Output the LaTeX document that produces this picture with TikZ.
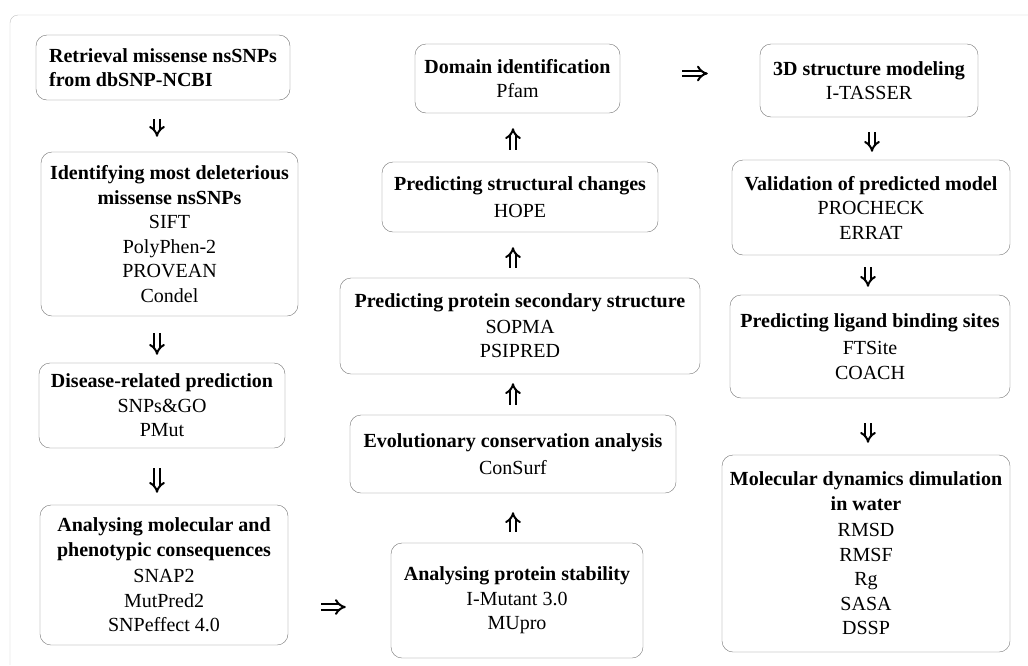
\documentclass[tikz,border=0pt]{standalone}
\usepackage{fontspec}
\setmainfont{Liberation Serif}
\usetikzlibrary{
	positioning,
	arrows.meta
}
\tikzset{
	stage/.style={
		draw=black!55,
		rounded corners=11pt,
		align=center,
		inner sep=2pt,
		font=\fontsize{20}{24.5}\selectfont
	},
	boxsize/.style 2 args={
		minimum width=#1pt,
		minimum height=#2pt
	},
	flow/.style={
		double,
		double distance=3.2pt,
		line width=2pt,
		-{Implies}
	}
}

\begin{document}
\begin{tikzpicture}[x=1pt,y=-1pt]
		\useasboundingbox (0,0) rectangle (1028,665);
		% outer frame, cut by the page edges
		\draw[black!25, rounded corners=8pt] (10,665) -- (10,15) -- (1028,15);

		\draw
			node [stage,boxsize={254}{65},align=left] (b1) at (163,67.5)
				{\textbf{Retrieval missense nsSNPs}\\\textbf{from dbSNP-NCBI}}
			node [stage,boxsize={257}{164}]  (b2) at (169.5,234)
				{\textbf{Identifying most deleterious}\\\textbf{missense nsSNPs}\\SIFT\\PolyPhen-2\\PROVEAN\\Condel}
			node [stage,boxsize={246}{85}]   (b3) at (162,405.5)
				{\textbf{Disease-related prediction}\\SNPs\&GO\\PMut}
			node [stage,boxsize={248}{140}]  (b4) at (164,575)
				{\textbf{Analysing molecular and}\\\textbf{phenotypic consequences}\\[2pt]SNAP2\\MutPred2\\SNPeffect 4.0}

			node [stage,boxsize={205}{69}]   (b5) at (517.5,78.5)
				{\textbf{Domain identification}\\Pfam}
			node [stage,boxsize={276}{70}]   (b6) at (520,197)
				{\textbf{Predicting structural changes}\\[2pt]HOPE}
			node [stage,boxsize={360}{96}]   (b7) at (520,326)
				{\textbf{Predicting protein secondary structure}\\[1pt]SOPMA\\PSIPRED}
			node [stage,boxsize={326}{78}]   (b8) at (513,454)
				{\textbf{Evolutionary conservation analysis}\\[3pt]ConSurf}
			node [stage,boxsize={252}{115}]  (b9) at (517,600.5)
				{\textbf{Analysing protein stability}\\I-Mutant 3.0\\MUpro}

			node [stage,boxsize={218}{73}]   (b10) at (869,80.5)
				{\textbf{3D structure modeling}\\I-TASSER}
			node [stage,boxsize={278}{95}]   (b11) at (871,207.5)
				{\textbf{Validation of predicted model}\\PROCHECK\\ERRAT}
			node [stage,boxsize={280}{103}]  (b12) at (870,346.5)
				{\textbf{Predicting ligand binding sites}\\[3pt]FTSite\\COACH}
			node [stage,boxsize={288}{197}]  (b13) at (866,553.5)
				{\textbf{Molecular dynamics dimulation}\\\textbf{in water}\\[2pt]RMSD\\RMSF\\Rg\\SASA\\DSSP}
		;

		% downward steps
		\foreach \a/\b/\s/\e/\dx in {b1/b2/19/15/-6, b2/b3/17/8/-12.5, b3/b4/20/12/-5,
				b10/b11/15/8/3, b11/b12/12/8/-3, b12/b13/25/12/-2}
			\draw[flow, shorten <=\s pt, shorten >=\e pt]
				([xshift=\dx pt]\a.south) -- ([xshift=\dx pt]\a.south |- \b.north);

		% upward steps
		\foreach \a/\b/\s/\e/\dx in {b9/b8/11/19/-4, b8/b7/10/9/0, b7/b6/10/15/-7, b6/b5/12/15/-7}
			\draw[flow, shorten <=\s pt, shorten >=\e pt]
				([xshift=\dx pt]\a.north) -- ([xshift=\dx pt]\a.north |- \b.south);

		% across the columns
		\draw[flow, shorten <=33pt, shorten >=45pt]
			([yshift=-32pt]b4.east) -- ([yshift=-32pt]b4.east -| b9.west);
		\draw[flow, shorten <=62pt, shorten >=52pt]
			([yshift=5pt]b5.east) -- ([yshift=5pt]b5.east -| b10.west);
	\end{tikzpicture}
\end{document}
